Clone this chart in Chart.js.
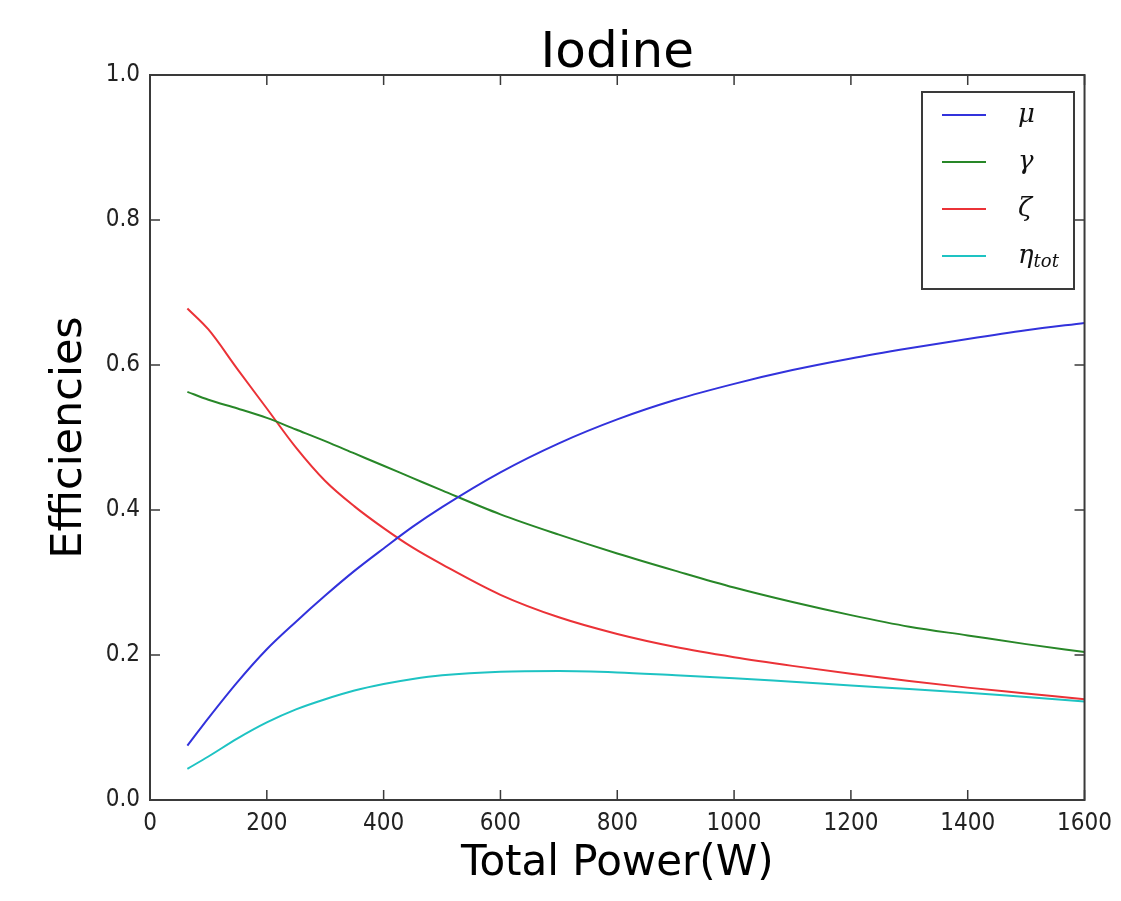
<!DOCTYPE html>
<html>
<head>
<meta charset="utf-8">
<script src="https://cdn.jsdelivr.net/npm/chart.js@4.4.1/dist/chart.umd.min.js"></script>
<style>
    html, body { margin: 0; padding: 0; background: #fff; }
    #wrap { width: 1121px; height: 901px; }
</style>
</head>
<body>
<div id="wrap"><canvas id="chart" width="1121" height="901"></canvas></div>
<script>
// Iodine efficiencies vs total power

const POWER_W = [64, 100, 150, 200, 250, 300, 350, 400, 450, 500, 600, 700, 800, 900, 1000, 1100, 1200, 1300, 1400, 1500, 1600];
const MU      = [0.075, 0.113, 0.163, 0.208, 0.246, 0.282, 0.316, 0.347, 0.377, 0.404, 0.452, 0.492, 0.525, 0.552, 0.574, 0.593, 0.609, 0.623, 0.636, 0.648, 0.658];
const GAMMA   = [0.563, 0.552, 0.540, 0.527, 0.511, 0.495, 0.478, 0.461, 0.444, 0.427, 0.394, 0.366, 0.340, 0.316, 0.293, 0.273, 0.255, 0.239, 0.227, 0.215, 0.204];
const ZETA    = [0.678, 0.649, 0.594, 0.540, 0.486, 0.440, 0.405, 0.375, 0.348, 0.325, 0.283, 0.252, 0.229, 0.211, 0.197, 0.185, 0.174, 0.164, 0.155, 0.147, 0.139];
const ETA_TOT = [0.043, 0.060, 0.085, 0.107, 0.125, 0.139, 0.151, 0.160, 0.167, 0.172, 0.177, 0.178, 0.176, 0.172, 0.168, 0.163, 0.158, 0.153, 0.148, 0.142, 0.136];

const SERIES_LABELS = ['μ', 'γ', 'ζ', 'η'];
const SERIES_SUBS = ['', '', '', 'tot'];
const X_TICKS = [0, 200, 400, 600, 800, 1000, 1200, 1400, 1600];
const Y_TICKS = [0.0, 0.2, 0.4, 0.6, 0.8, 1.0];

const COLORS = {
    blue: 'rgb(50, 50, 220)',
    green: 'rgb(40, 135, 40)',
    red: 'rgb(235, 50, 55)',
    cyan: 'rgb(30, 195, 195)',
    frame: '#3a3a3a'
};

const TICK_FONT = '"DejaVu Sans Condensed", "DejaVu Sans"';

function pts(ys) {
    return POWER_W.map((x, i) => ({ x, y: ys[i] }));
}

// frame, inward ticks, title and legend like the matplotlib original
const mplLook = {
    id: 'mplLook',
    afterDatasetsDraw(chart) {
        const { ctx, chartArea: a, scales } = chart;
        const tl = 10;
        ctx.save();
        ctx.strokeStyle = COLORS.frame;
        ctx.lineWidth = 1.5;
        ctx.beginPath();
        X_TICKS.forEach(v => {
            const px = scales.x.getPixelForValue(v);
            ctx.moveTo(px, a.bottom); ctx.lineTo(px, a.bottom - tl);
            ctx.moveTo(px, a.top); ctx.lineTo(px, a.top + tl);
        });
        Y_TICKS.forEach(v => {
            const py = scales.y.getPixelForValue(v);
            ctx.moveTo(a.left, py); ctx.lineTo(a.left + tl, py);
            ctx.moveTo(a.right, py); ctx.lineTo(a.right - tl, py);
        });
        ctx.stroke();
        ctx.lineWidth = 2;
        ctx.strokeRect(a.left, a.top, a.right - a.left, a.bottom - a.top);

        // title
        ctx.fillStyle = '#000';
        ctx.font = '50px "DejaVu Sans"';
        ctx.textAlign = 'center';
        ctx.textBaseline = 'alphabetic';
        ctx.fillText('Iodine', (a.left + a.right) / 2, 67);

        // legend box
        const bx = 922, by = 92, bw = 152, bh = 197;
        ctx.fillStyle = '#fff';
        ctx.fillRect(bx, by, bw, bh);
        ctx.lineWidth = 2;
        ctx.strokeStyle = COLORS.frame;
        ctx.strokeRect(bx, by, bw, bh);
        chart.data.datasets.forEach((ds, i) => {
            const y = 115 + i * 47;
            ctx.strokeStyle = ds.borderColor;
            ctx.lineWidth = 2;
            ctx.beginPath();
            ctx.moveTo(942, y); ctx.lineTo(986, y);
            ctx.stroke();
            ctx.fillStyle = '#111';
            ctx.textAlign = 'left';
            ctx.textBaseline = 'middle';
            ctx.font = 'italic 26px "DejaVu Serif"';
            ctx.fillText(SERIES_LABELS[i], 1018, y);
            if (SERIES_SUBS[i]) {
                const w = ctx.measureText(SERIES_LABELS[i]).width;
                ctx.font = 'italic 18px "DejaVu Serif"';
                ctx.fillText(SERIES_SUBS[i], 1018 + w, y + 6);
            }
        });
        ctx.restore();
    }
};

function makeDataset(data, color) {
    return {
        data: pts(data),
        borderColor: color,
        backgroundColor: color,
        borderWidth: 2,
        pointRadius: 0,
        cubicInterpolationMode: 'monotone',
        fill: false
    };
}

new Chart(document.getElementById('chart'), {
    type: 'line',
    data: {
        datasets: [
            makeDataset(MU, COLORS.blue),
            makeDataset(GAMMA, COLORS.green),
            makeDataset(ZETA, COLORS.red),
            makeDataset(ETA_TOT, COLORS.cyan)
        ]
    },
    options: {
        responsive: false,
        animation: false,
        layout: { padding: { top: 75, right: 34, left: 0, bottom: 0 } },
        plugins: {
            legend: { display: false },
            title: { display: false },
            tooltip: { enabled: false }
        },
        scales: {
            x: {
                type: 'linear',
                min: 0,
                max: 1600,
                afterFit: s => { s.height = 101; },
                afterBuildTicks: s => { s.ticks = X_TICKS.map(v => ({ value: v })); },
                grid: { display: false, drawTicks: false },
                border: { display: false },
                ticks: {
                    padding: 9,
                    color: '#222',
                    font: { family: TICK_FONT, size: 24 },
                    maxRotation: 0,
                    callback: v => String(v)
                },
                title: {
                    display: true,
                    text: 'Total Power(W)',
                    color: '#000',
                    font: { family: 'DejaVu Sans', size: 42 },
                    padding: { top: 0, bottom: 12 }
                }
            },
            y: {
                min: 0,
                max: 1,
                afterFit: s => { s.width = 150; },
                afterBuildTicks: s => { s.ticks = Y_TICKS.map(v => ({ value: v })); },
                grid: { display: false, drawTicks: false },
                border: { display: false },
                ticks: {
                    padding: 10,
                    color: '#222',
                    font: { family: TICK_FONT, size: 24 },
                    callback: v => v.toFixed(1)
                },
                title: {
                    display: true,
                    text: 'Efficiencies',
                    color: '#000',
                    font: { family: 'DejaVu Sans', size: 43 },
                    padding: { top: 44, bottom: 0 }
                }
            }
        }
    },
    plugins: [mplLook]
});
</script>
</body>
</html>
